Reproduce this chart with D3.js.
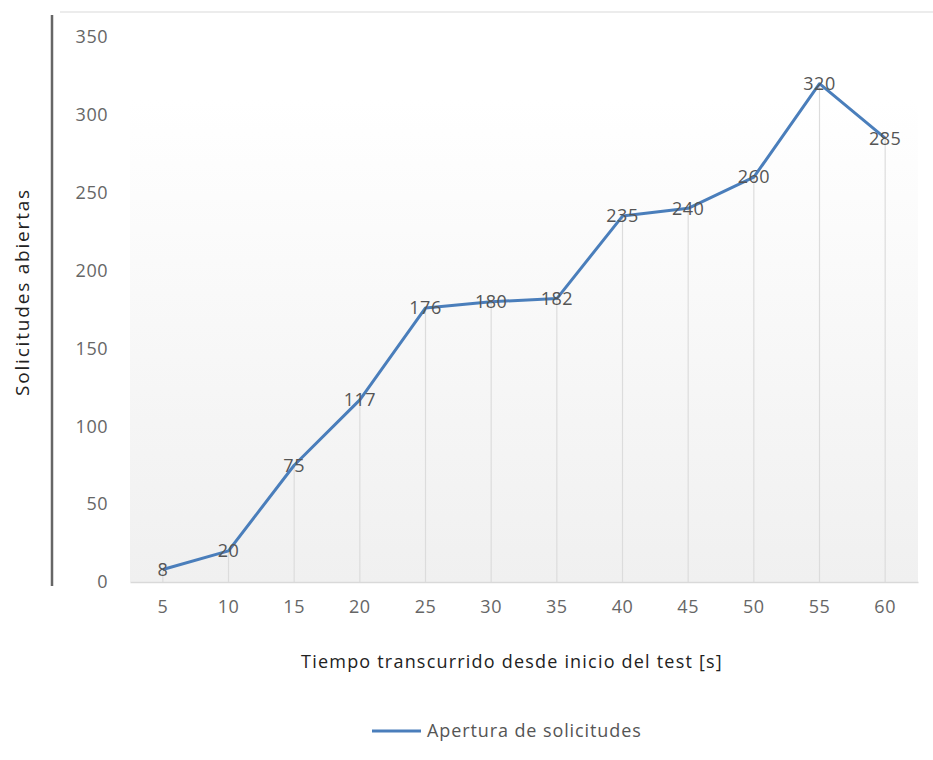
<!DOCTYPE html>
<html>
<head>
<meta charset="utf-8">
<script src="https://cdn.jsdelivr.net/npm/d3@7"></script>
<style>
  body { margin: 0; background: #fff; }
  text { font-family: "Open Sans", sans-serif; }
</style>
</head>
<body>
<div id="chart"></div>
<script>
const tiempos = [5, 10, 15, 20, 25, 30, 35, 40, 45, 50, 55, 60];
const solicitudes = [8, 20, 75, 117, 176, 180, 182, 235, 240, 260, 320, 285];
const yTicks = [0, 50, 100, 150, 200, 250, 300, 350];
const serieNombre = "Apertura de solicitudes";
const xTitulo = "Tiempo transcurrido desde inicio del test [s]";
const yTitulo = "Solicitudes abiertas";

function createLineChart(selector) {
    const width = 933, height = 760;
    const plot = { left: 130, right: 918, top: 37, bottom: 582 };

    const svg = d3.select(selector).append('svg')
        .attr('width', width)
        .attr('height', height);

    const x = d3.scaleBand()
        .domain(tiempos)
        .range([plot.left, plot.right]);

    const y = d3.scaleLinear()
        .domain([0, 350])
        .range([plot.bottom, plot.top]);

    // background gradient
    const grad = svg.append('defs').append('linearGradient')
        .attr('id', 'bg').attr('x1', 0).attr('y1', 0).attr('x2', 0).attr('y2', 1);
    grad.append('stop').attr('offset', '0%').attr('stop-color', '#ffffff');
    grad.append('stop').attr('offset', '100%').attr('stop-color', '#f0f0f0');

    svg.append('rect')
        .attr('x', plot.left)
        .attr('y', y(310))
        .attr('width', plot.right - plot.left)
        .attr('height', plot.bottom - y(310))
        .attr('fill', 'url(#bg)');

    // frame lines
    svg.append('line')
        .attr('x1', 60).attr('x2', 933).attr('y1', 12).attr('y2', 12)
        .attr('stroke', '#e6e6e6').attr('stroke-width', 1.5);
    svg.append('line')
        .attr('x1', 52).attr('x2', 52).attr('y1', 15).attr('y2', 586)
        .attr('stroke', '#666').attr('stroke-width', 2.5);

    // drop lines
    svg.selectAll('.drop')
        .data(tiempos)
        .enter().append('line')
        .attr('x1', d => x(d) + x.bandwidth() / 2)
        .attr('x2', d => x(d) + x.bandwidth() / 2)
        .attr('y1', (d, i) => y(solicitudes[i]))
        .attr('y2', plot.bottom)
        .attr('stroke', '#dcdcdc')
        .attr('stroke-width', 1.2);

    // x axis
    const xAxis = svg.append('g')
        .attr('transform', `translate(0,${plot.bottom})`)
        .call(d3.axisBottom(x).tickSize(0).tickPadding(18));
    xAxis.select('.domain').attr('stroke', '#d9d9d9').attr('stroke-width', 1.5);
    xAxis.selectAll('text').attr('fill', '#666')
        .style('font-size', '18px').style('letter-spacing', '0.5px');

    // y axis
    const yAxis = svg.append('g')
        .attr('transform', 'translate(108,0)')
        .call(d3.axisLeft(y).tickValues(yTicks).tickSize(0).tickPadding(0));
    yAxis.select('.domain').remove();
    yAxis.selectAll('text').attr('fill', '#666')
        .style('font-size', '18px').style('letter-spacing', '0.5px');

    // series
    const line = d3.line()
        .x((d, i) => x(tiempos[i]) + x.bandwidth() / 2)
        .y(d => y(d));

    svg.append('path')
        .datum(solicitudes)
        .attr('fill', 'none')
        .attr('stroke', '#4a7ebb')
        .attr('stroke-width', 3)
        .attr('stroke-linejoin', 'round')
        .attr('d', line);

    // data labels
    svg.selectAll('.lbl')
        .data(solicitudes)
        .enter().append('text')
        .attr('x', (d, i) => x(tiempos[i]) + x.bandwidth() / 2)
        .attr('y', d => y(d))
        .attr('dy', '0.35em')
        .attr('text-anchor', 'middle')
        .attr('fill', '#555')
        .style('font-size', '18px')
        .style('letter-spacing', '0.5px')
        .text(d => d);

    // titles
    svg.append('text')
        .attr('x', 512)
        .attr('y', 668)
        .attr('text-anchor', 'middle')
        .attr('fill', '#222')
        .style('font-size', '18px')
        .style('letter-spacing', '1.2px')
        .text(xTitulo);

    svg.append('text')
        .attr('transform', 'rotate(-90)')
        .attr('x', -292)
        .attr('y', 29)
        .attr('text-anchor', 'middle')
        .attr('fill', '#222')
        .style('font-size', '19px')
        .style('letter-spacing', '1.8px')
        .text(yTitulo);

    // legend
    svg.append('line')
        .attr('x1', 372).attr('x2', 421).attr('y1', 731).attr('y2', 731)
        .attr('stroke', '#4a7ebb').attr('stroke-width', 3);
    svg.append('text')
        .attr('x', 427)
        .attr('y', 731)
        .attr('dy', '0.35em')
        .attr('fill', '#555')
        .style('font-size', '18px')
        .style('letter-spacing', '0.9px')
        .text(serieNombre);
}

createLineChart('#chart');
</script>
</body>
</html>
